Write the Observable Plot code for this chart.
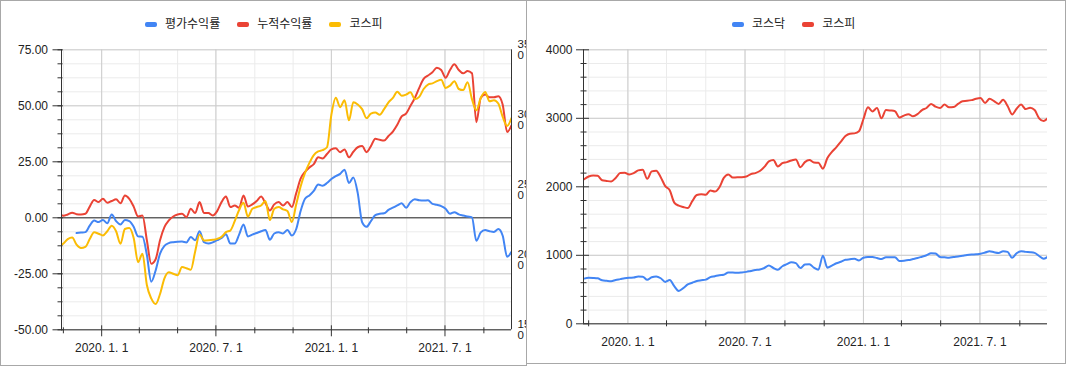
<!DOCTYPE html>
<html>
<head>
<meta charset="utf-8">
<script src="https://cdn.jsdelivr.net/npm/d3@7"></script>
<script src="https://cdn.jsdelivr.net/npm/@observablehq/plot@0.6"></script>
<style>
  body { margin: 0; background: #fff; font-family: "Liberation Sans", Arial, "Noto Sans CJK KR", sans-serif; }
  #wrap { position: relative; width: 1068px; height: 367px; overflow: hidden; background: #fff; }
  .panel { position: absolute; top: 0; overflow: hidden; }
  .panel svg { position: absolute; left: 0; top: 0; }
  .frame { position: absolute; top: 0; box-sizing: border-box; border: 1px solid #a8a8a8; pointer-events: none; }
  .legend { position: absolute; top: 16px; height: 16px; display: flex; align-items: center; font-size: 12px; color: #222; white-space: nowrap; }
  .item { display: flex; align-items: center; margin-right: 17px; line-height: 16px; }
  .sw { display: inline-block; width: 12px; height: 5px; border-radius: 2px; margin-right: 8px; }
</style>
</head>
<body>
<div id="wrap">
  <div id="p1" class="panel" style="left:0;width:526px;height:365px;"></div>
  <div id="p2" class="panel" style="left:526px;width:540px;height:363px;"></div>
  <div class="frame" style="left:0;width:527px;height:366px;"></div>
  <div class="frame" style="left:526px;width:540px;height:364px;"></div>
  <div id="leg1" class="legend" style="left:145px;"></div>
  <div id="leg2" class="legend" style="left:732px;"></div>
</div>
<script>
// ---------- data (weekly) ----------
const dateStrings = ("2019-10-25 2019-11-01 2019-11-08 2019-11-15 2019-11-22 2019-11-29 2019-12-06 2019-12-13 2019-12-20 2019-12-27 " +
  "2020-01-03 2020-01-10 2020-01-17 2020-01-24 2020-01-31 2020-02-07 2020-02-14 2020-02-21 2020-02-28 2020-03-06 " +
  "2020-03-13 2020-03-20 2020-03-27 2020-04-03 2020-04-10 2020-04-17 2020-04-24 2020-05-01 2020-05-08 2020-05-15 " +
  "2020-05-22 2020-05-29 2020-06-05 2020-06-12 2020-06-19 2020-06-26 2020-07-03 2020-07-10 2020-07-17 2020-07-24 " +
  "2020-07-31 2020-08-07 2020-08-14 2020-08-21 2020-08-28 2020-09-04 2020-09-11 2020-09-18 2020-09-25 2020-10-02 " +
  "2020-10-09 2020-10-16 2020-10-23 2020-10-30 2020-11-06 2020-11-13 2020-11-20 2020-11-27 2020-12-04 2020-12-11 " +
  "2020-12-18 2020-12-25 2021-01-01 2021-01-08 2021-01-15 2021-01-22 2021-01-29 2021-02-05 2021-02-12 2021-02-19 " +
  "2021-02-26 2021-03-05 2021-03-12 2021-03-19 2021-03-26 2021-04-02 2021-04-09 2021-04-16 2021-04-23 2021-04-30 " +
  "2021-05-07 2021-05-14 2021-05-21 2021-05-28 2021-06-04 2021-06-11 2021-06-18 2021-06-25 2021-07-02 2021-07-09 " +
  "2021-07-16 2021-07-23 2021-07-30 2021-08-06 2021-08-13 2021-08-20 2021-08-27 2021-09-03 2021-09-10 2021-09-17 " +
  "2021-09-24 2021-10-01 2021-10-08 2021-10-15").split(" ");

// left chart: 평가수익률 (%)
const evalReturn = [null, null, null, null, -6.8, -6.6, -6.4, -3.5, -1.2, -1.9,
  -1.0, -2.4, 1.5, -1.5, -3.0, -1.0, -1.5, -4, -8.3, -8.5,
  -16.5, -28.5, -23.5, -16, -12.5, -11.3, -10.9, -10.7, -10.6, -11,
  -8.6, -10, -6, -10.9, -11.5, -11, -10, -9, -7.3, -11.5,
  -11.5, -7.5, -3, -8.3, -7.5, -6.8, -6, -5.5, -9.8, -7,
  -6.4, -7, -5.4, -7.9, -5, 3, 8.5, 10, 12, 14.9,
  14.3, 15.5, 17.3, 18.6, 19.6, 21.5, 15.5, 18, 11, -2,
  -4, -1.5, 1.2, 1.8, 2, 3.5, 4.5, 5.5, 6.5, 4.5,
  7, 8.3, 7.8, 7.7, 7.8, 6.2, 5.8, 5.2, 4, 1.8,
  2.5, 1.5, 1, 0.6, 0.2, -10.3, -6.5, -5.5, -6, -6.3,
  -5, -8, -17.4, -15.2];
// left chart: 누적수익률 (%)
const cumReturn = [2.2, 0.9, 1.5, 2.3, 1.6, 1.5, 1.8, 5, 8, 7,
  8.5, 6.7, 7.5, 8.3, 6.5, 10, 8.5, 5, 0.6, 1,
  -10, -20.5, -18.5, -10, -4.2, -1.2, 0.6, 1.5, 1.8, 0.3,
  4, 2.1, 7, 2.1, 2.1, 1, 3, 7, 9.5, 4.8,
  5.5, 4.5, 10, 5, 6, 7.5, 9.5, 6.5, 3.3, 6,
  7, 5.5, 7, 4.8, 11, 17.5, 20.5, 22.5, 24, 27,
  26.5, 28.5, 30.5, 31, 29.3, 30.5, 27, 29.5, 31.5, 32,
  29.3, 32, 35.3, 34.8, 34.5, 36.5, 38.5, 41.5, 45.3, 46.5,
  50, 53.5, 58, 62, 63.5, 65, 67, 66, 62.5, 66,
  68.5, 66, 64.5, 65.5, 64.5, 42.7, 53.5, 55, 53.8, 53.8,
  54.3, 50.5, 38.3, 41.2];
// left chart: 코스피 (%)
const kospiReturn = [-13, -11.5, -9.5, -8.8, -12, -13.5, -13, -9.5, -6.5, -7.1,
  -7.9, -6, -3.5, -6, -11.6, -5, -4.5, -9, -19.8, -16,
  -30, -36, -38.5, -34, -27, -24.3, -25, -25.7, -22, -22.5,
  -23.2, -15, -7.5, -10.1, -10, -9.8, -9.4, -8.5, -6.4, -5.7,
  -1.5, 3.5, 6.7, 0.5, 4, 4.8, 5.5, 7.5, -1, 4,
  4.8, 3.8, 3, -1.9, 6, 14, 20, 24.5, 28, 29.6,
  30.2, 31.5, 46, 53.6, 49.4, 52.5, 43.5, 51.6, 50.6, 48.5,
  44.5, 46.5, 47, 46, 48.5, 51.5, 53.5, 56.3, 54.5, 55,
  56, 53, 54, 57.5, 59.5, 60, 61, 61.6, 58, 59,
  61, 57.5, 57, 60.5, 53, 48, 53.5, 56.2, 52, 52.5,
  51, 45, 41, 44.5];

// right chart: 코스닥 index
const kosdaq = [660, 672, 670, 665, 635, 628, 623, 640, 652, 665,
  672, 675, 690, 688, 642, 680, 690, 665, 612, 640,
  550, 480, 520, 575, 600, 625, 636, 645, 681, 695,
  710, 716, 748, 748, 745, 750, 758, 772, 785, 792,
  815, 850, 815, 790, 840, 870, 898, 885, 813, 866,
  870, 820, 790, 995, 820, 850, 884, 905, 934, 942,
  949, 925, 965, 975, 975, 960, 945, 972, 972, 973,
  918, 922, 930, 945, 960, 980, 1000, 1030, 1025, 975,
  970, 965, 975, 983, 993, 1003, 1010, 1015, 1022, 1040,
  1060, 1045, 1035, 1060, 1050, 963, 1030, 1060, 1050, 1046,
  1035, 990, 950, 982];
// right chart: 코스피 index
const kospi = [2110, 2150, 2165, 2160, 2095, 2085, 2078, 2130, 2200, 2205,
  2180, 2200, 2240, 2250, 2117, 2225, 2235, 2140, 2010, 1950,
  1770, 1725, 1705, 1690, 1790, 1880, 1890, 1885, 1946, 1930,
  1990, 2130, 2180, 2135, 2140, 2140, 2150, 2185, 2200, 2230,
  2290, 2370, 2390, 2297, 2345, 2360, 2385, 2400, 2285, 2360,
  2390, 2355, 2350, 2265, 2420, 2510, 2580, 2660, 2740, 2775,
  2780, 2810, 2990, 3160, 3100, 3150, 3000, 3120, 3114, 3104,
  3010, 3040, 3060, 3030, 3060, 3120, 3150, 3210, 3170, 3150,
  3200, 3160, 3165, 3210, 3250, 3255, 3265, 3285, 3295, 3225,
  3285, 3250, 3210, 3270, 3180, 3056, 3140, 3200, 3135, 3153,
  3120, 3000, 2960, 3007];

// ticks / labels
const leftTicks = [-50, -25, 0, 25, 50, 75];
const rightAxisTicks = [1500, 2000, 2500, 3000, 3500];
const rightAxisLabels = ["150\n0", "200\n0", "250\n0", "300\n0", "350\n0"];
const indexTicks = [0, 1000, 2000, 3000, 4000];
const majorDateStrings = ["2020-01-01", "2020-07-01", "2021-01-01", "2021-07-01"];
const leftSeriesNames = ["평가수익률", "누적수익률", "코스피"];
const rightSeriesNames = ["코스닥", "코스피"];
const BLUE = "#4285f4", RED = "#ea4335", YELLOW = "#fbbc04";

// ---------- helpers ----------
const utc = s => new Date(s + "T00:00:00Z");
const dates = dateStrings.map(utc);
const rows = vals => vals.map((v, i) => ({date: dates[i], value: v})).filter(d => d.value != null);
const majorDates = majorDateStrings.map(utc);
const FONT = "'Liberation Sans', Arial, 'Noto Sans CJK KR', sans-serif";
const AX = "#333";
const dateFmt = d => `${d.getUTCFullYear()}. ${d.getUTCMonth() + 1}. ${d.getUTCDate()}`;

function legend(el, names, colors) {
  el.innerHTML = names.map((n, i) =>
    `<span class="item"><span class="sw" style="background:${colors[i]}"></span>${n}</span>`).join("");
}
legend(document.getElementById("leg1"), leftSeriesNames, [BLUE, RED, YELLOW]);
legend(document.getElementById("leg2"), rightSeriesNames, [BLUE, RED]);

// ---------- left chart ----------
{
  const x0 = utc("2019-10-29"), x1 = utc("2021-10-15");
  const minorX = d3.utcMonth.every(2).range(utc("2019-11-01"), x1);
  const minorOnlyX = minorX.filter(d => !majorDates.some(m => +m === +d));
  const minorY = d3.range(-50, 75.001, 6.25);
  const toLeft = d3.scaleLinear([1500, 3500], [-50, 75]);
  const rightPos = rightAxisTicks.map(toLeft);
  const rightLabel = new Map(rightPos.map((p, i) => [p, rightAxisLabels[i]]));
  const H = 365;
  const chart = Plot.plot({
    width: 526, height: H,
    marginLeft: 61, marginRight: 15, marginTop: 49.3, marginBottom: H - 329.3,
    style: {fontFamily: FONT, fontSize: "12px", color: "#222", background: "transparent"},
    x: {type: "utc", domain: [x0, x1]},
    y: {type: "linear", domain: [-50, 75]},
    marks: [
      Plot.gridY(minorY, {stroke: "#ebebeb", strokeOpacity: 1}),
      Plot.gridX(minorX, {stroke: "#ebebeb", strokeOpacity: 1}),
      Plot.gridY(leftTicks, {stroke: "#cccccc", strokeOpacity: 1}),
      Plot.gridX(majorDates, {stroke: "#cccccc", strokeOpacity: 1}),
      Plot.ruleY([0], {stroke: AX}),
      Plot.line(rows(evalReturn), {x: "date", y: "value", stroke: BLUE, strokeWidth: 2, curve: "monotone-x", clip: true}),
      Plot.line(rows(cumReturn), {x: "date", y: "value", stroke: RED, strokeWidth: 2, curve: "monotone-x", clip: true}),
      Plot.line(rows(kospiReturn), {x: "date", y: "value", stroke: YELLOW, strokeWidth: 2, curve: "monotone-x", clip: true}),
      Plot.ruleX([x0], {stroke: AX}),
      Plot.ruleX([x1], {stroke: AX}),
      Plot.ruleY([-50], {stroke: AX}),
      // y ticks
      Plot.axisY(leftTicks, {tickSize: 10, dx: 1.5, fill: "none", stroke: AX, label: null}),
      Plot.axisY(minorY, {tickSize: 5, dx: 1.5, fill: "none", stroke: AX, label: null}),
      Plot.axisY(leftTicks, {tickSize: 0, tickPadding: 13.5, tickFormat: d => d.toFixed(2), label: null}),
      // right axis labels (1500 – 3500), wrapped and clipped at the panel edge
      Plot.axisY(rightPos, {anchor: "right", tickSize: 0, tickPadding: 6, tickFormat: d => rightLabel.get(d), fontSize: 11.5, lineHeight: 0.95, label: null}),
      // x ticks & labels
      Plot.axisX(majorDates, {tickSize: 11, dy: -4, fill: "none", stroke: AX, label: null}),
      Plot.axisX(minorOnlyX, {tickSize: 6, dy: -2, fill: "none", stroke: AX, label: null}),
      Plot.axisX(majorDates, {tickSize: 0, tickPadding: 14, tickFormat: dateFmt, label: null})
    ]
  });
  document.getElementById("p1").append(chart);
}

// ---------- right chart ----------
{
  const x0 = utc("2019-10-24"), x1 = utc("2021-10-14");
  const minorX = d3.utcMonth.every(2).range(utc("2019-11-01"), x1);
  const minorOnlyX = minorX.filter(d => !majorDates.some(m => +m === +d));
  const minorY = d3.range(0, 4000.1, 200);
  const H = 363;
  const chart = Plot.plot({
    width: 540, height: H,
    marginLeft: 57, marginRight: 19, marginTop: 49.3, marginBottom: H - 323.3,
    style: {fontFamily: FONT, fontSize: "12px", color: "#222", background: "transparent"},
    x: {type: "utc", domain: [x0, x1]},
    y: {type: "linear", domain: [0, 4000]},
    marks: [
      Plot.gridY(minorY, {stroke: "#ebebeb", strokeOpacity: 1}),
      Plot.gridX(minorX, {stroke: "#ebebeb", strokeOpacity: 1}),
      Plot.gridY(indexTicks, {stroke: "#cccccc", strokeOpacity: 1}),
      Plot.gridX(majorDates, {stroke: "#cccccc", strokeOpacity: 1}),
      Plot.line(rows(kosdaq), {x: "date", y: "value", stroke: BLUE, strokeWidth: 2, curve: "monotone-x", clip: true}),
      Plot.line(rows(kospi), {x: "date", y: "value", stroke: RED, strokeWidth: 2, curve: "monotone-x", clip: true}),
      Plot.ruleX([x0], {stroke: AX}),
      Plot.ruleY([0], {stroke: AX}),
      Plot.axisY(indexTicks, {tickSize: 13, dx: 6, fill: "none", stroke: AX, label: null}),
      Plot.axisY(minorY.filter(v => v % 1000 !== 0), {tickSize: 6, dx: 3.5, fill: "none", stroke: AX, label: null}),
      Plot.axisY(indexTicks, {tickSize: 0, tickPadding: 11, tickFormat: d => String(d), label: null}),
      Plot.axisX(minorOnlyX, {tickSize: 6, dy: -3, fill: "none", stroke: AX, label: null}),
      Plot.axisX(majorDates, {tickSize: 0, tickPadding: 14, tickFormat: dateFmt, label: null})
    ]
  });
  document.getElementById("p2").append(chart);
}
</script>
</body>
</html>
